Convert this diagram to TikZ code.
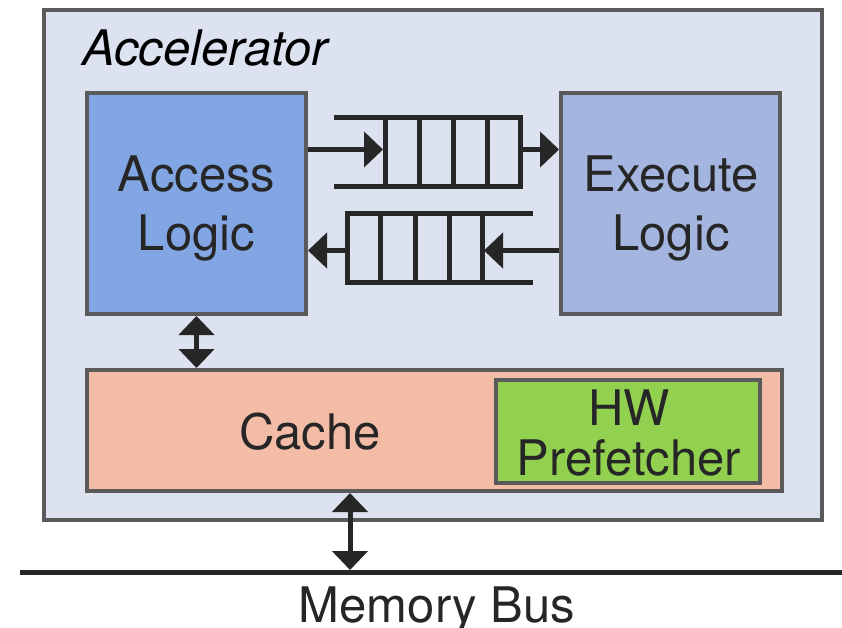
\documentclass[tikz,border=0pt]{standalone}
\usepackage{fontspec}
\setmainfont{TeX Gyre Heros}
\usetikzlibrary{arrows.meta}

\definecolor{accbg}{HTML}{DDE2F0}
\definecolor{accessblue}{HTML}{82A6E3}
\definecolor{execblue}{HTML}{A4B6E0}
\definecolor{cachepink}{HTML}{F2BCA6}
\definecolor{prefgreen}{HTML}{92D050}
\definecolor{edgegray}{HTML}{5A5A5A}
\definecolor{ink}{HTML}{262626}

\tikzset{
  block/.style={draw=edgegray, line width=4pt, inner sep=0pt, rectangle},
  lbl/.style={font=\fontsize{49}{59}\selectfont, text=ink, align=center, inner sep=0pt},
  queue/.style={draw=ink, line width=5pt},
  tip/.style={-{Triangle[length=19pt,width=35pt]}},
  biarrow/.style={{Triangle[length=19pt,width=35pt]}-{Triangle[length=19pt,width=35pt]}},
  link/.style={draw=ink, line width=5pt},
}

\begin{document}
\begin{tikzpicture}[x=1pt,y=-1pt]
\useasboundingbox (0,0) rectangle (842,627);

% accelerator enclosure
\node[block, fill=accbg, minimum width=778pt, minimum height=510pt] (acc) at (433,265) {};
\node[lbl, font=\fontsize{49}{59}\selectfont\itshape, anchor=base west, text=black] (acctitle) at (82,65) {Accelerator};

% access and execute units
\node[block, fill=accessblue, minimum width=219pt, minimum height=221pt] (access) at (196.5,203.5) {};
\node[block, fill=execblue, minimum width=219pt, minimum height=221pt] (execute) at (670.5,203.5) {};
\node[lbl] (accesstxt) at (196.5,208) {Access\\Logic};
\node[lbl] (executetxt) at (671,208) {Execute\\Logic};

% cache with hardware prefetcher
\node[block, fill=cachepink, minimum width=695pt, minimum height=121pt] (cache) at (434.5,430.5) {};
\node[lbl] (cachetxt) at (310,432) {Cache};
\node[block, fill=prefgreen, minimum width=264pt, minimum height=103pt] (pref) at (628,431.5) {};
\node[lbl, font=\fontsize{49}{50}\selectfont] (preftxt) at (629,433) {HW\\Prefetcher};

% queue from access to execute
\draw[queue] (334,117) -- (520.5,117) -- (520.5,186.5) -- (334,186.5);
\foreach \qx in {385,419.5,453.5,487} \draw[queue] (\qx,117) -- (\qx,186.5);
\coordinate (q1in) at (383,149.5);
\coordinate (q1out) at (520.5,149.5);

% queue from execute to access
\draw[queue] (533,213) -- (347.5,213) -- (347.5,282.5) -- (533,282.5);
\foreach \qx in {380.5,415.5,449.5,482.5} \draw[queue] (\qx,213) -- (\qx,282.5);
\coordinate (q2in) at (484,250.5);
\coordinate (q2out) at (347.5,250.5);

% queue arrows
\draw[link, tip] (access.east |- q1in) -- (q1in);
\draw[link, tip] (q1out) -- (execute.west |- q1out);
\draw[link, tip] (execute.west |- q2in) -- (q2in);
\draw[link, tip] (q2out) -- (access.east |- q2out);

% access <-> cache
\draw[link, biarrow] (access.south) -- (access.south |- cache.north);

% memory bus
\coordinate (busL) at (20,572);
\coordinate (busR) at (842,572);
\coordinate (bustap) at (350,570);
\draw[draw=ink, line width=5pt] (busL) -- (busR);
\draw[link, biarrow] (cache.south -| bustap) -- (bustap);
\node[lbl, anchor=base] (bus) at (437,622) {Memory Bus};
\end{tikzpicture}
\end{document}
